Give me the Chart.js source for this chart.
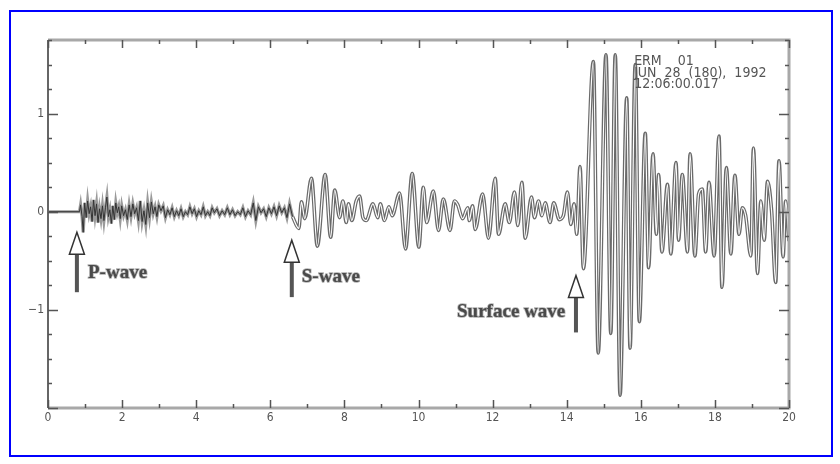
<!DOCTYPE html>
<html>
<head>
<meta charset="utf-8">
<script src="https://cdn.jsdelivr.net/npm/chart.js@4/dist/chart.umd.min.js"></script>
<style>
    html, body { margin: 0; padding: 0; background: #fff; }
    #wrap { position: relative; width: 840px; height: 464px; }
    #frame { position: absolute; left: 9px; top: 10px; width: 820px; height: 443px; border: 2px solid #0000ff; }
    canvas { position: absolute; left: 0; top: 0; }
</style>
</head>
<body>
<div id="wrap">
    <div id="frame"></div>
    <canvas id="seismo" width="840" height="464"></canvas>
</div>
<script>
// 时间轴 (秒) 与振幅, 从图上逐个峰谷读出
const times = [
    0, 0.85, 0.88, 0.92, 0.95, 0.99, 1.03, 1.07, 1.11, 1.15, 1.19, 1.23, 1.27, 1.31, 1.35, 1.39,
    1.43, 1.47, 1.51, 1.55, 1.59, 1.63, 1.67, 1.71, 1.75, 1.79, 1.83, 1.87, 1.91, 1.95, 1.99,
    2.04, 2.09, 2.14, 2.19, 2.24, 2.29, 2.34, 2.39, 2.44, 2.49, 2.54, 2.59, 2.64, 2.69, 2.74,
    2.79, 2.84, 2.89, 2.94, 2.99, 3.05, 3.11, 3.17, 3.23, 3.29, 3.35, 3.41, 3.47, 3.53, 3.59,
    3.65, 3.71, 3.77, 3.83, 3.89, 3.95, 4.01, 4.07, 4.13, 4.19, 4.25, 4.31, 4.37, 4.43, 4.49,
    4.56, 4.63, 4.70, 4.77, 4.84, 4.91, 4.98, 5.05, 5.12, 5.19, 5.26, 5.33, 5.40, 5.47, 5.54,
    5.61, 5.68, 5.75, 5.82, 5.89, 5.96, 6.03, 6.10, 6.17, 6.24, 6.31, 6.38, 6.45, 6.52, 6.60,
    6.77, 6.84, 6.93, 7.11, 7.27, 7.48, 7.63, 7.74, 7.87, 7.96, 8.05, 8.11, 8.20, 8.32, 8.41,
    8.50, 8.59, 8.77, 8.90, 8.97, 9.08, 9.20, 9.29, 9.49, 9.65, 9.83, 10.01, 10.13, 10.22, 10.40,
    10.54, 10.67, 10.85, 10.97, 11.06, 11.19, 11.33, 11.37, 11.46, 11.53, 11.73, 11.89, 12.07, 12.16, 12.34,
    12.45, 12.59, 12.68, 12.79, 12.88, 13.05, 13.13, 13.24, 13.33, 13.42, 13.55, 13.65, 13.80, 13.91, 14.02,
    14.11, 14.20, 14.27, 14.36, 14.45, 14.72, 14.85, 15.06, 15.19, 15.31, 15.44, 15.62, 15.71, 15.85, 15.96,
    16.12, 16.21, 16.33, 16.42, 16.48, 16.57, 16.72, 16.81, 16.95, 17.02, 17.12, 17.26, 17.33, 17.46, 17.56,
    17.66, 17.75, 17.84, 17.98, 18.11, 18.19, 18.31, 18.43, 18.54, 18.65, 18.74, 18.83, 18.97, 19.04, 19.15,
    19.24, 19.33, 19.42, 19.53, 19.64, 19.73, 19.84, 19.91, 20
];
const amplitudes = [
    0, 0, 0.07, -0.05, -0.21, 0.09, -0.06, 0.11, -0.02, 0.05, -0.10, 0.12, -0.04, 0.08, -0.11, 0.03,
    -0.07, 0.06, -0.09, 0.04, 0.15, -0.05, 0.02, -0.12, 0.06, -0.08, 0.09, -0.01, 0.05, -0.07, 0.06,
    -0.04, 0.02, -0.08, 0.07, -0.05, 0.08, -0.02, 0.04, -0.09, 0.11, -0.10, 0.01, -0.13, 0.09, -0.06,
    0.10, -0.02, 0.05, -0.05, 0.07, 0.01, 0.06, -0.06, 0.02, -0.03, 0.04, -0.05, 0.01, -0.04, 0.03,
    -0.05, 0.00, -0.03, 0.05, -0.02, 0.03, -0.05, 0.01, -0.03, 0.05, -0.04, 0.00, -0.04, 0.04, -0.01,
    0.03, -0.04, 0.01, -0.03, 0.04, -0.03, 0.02, -0.04, 0.00, -0.03, 0.04, -0.05, 0.01, -0.03, 0.09,
    -0.09, 0.05, -0.01, 0.03, -0.05, 0.04, -0.02, 0.05, -0.04, 0.06, -0.01, 0.04, -0.06, 0.08, -0.05,
    -0.17, 0.10, -0.07, 0.34, -0.35, 0.38, -0.26, 0.22, -0.06, 0.11, -0.11, 0.08, -0.09, 0.11, 0.16,
    -0.06, -0.09, 0.08, -0.06, 0.08, -0.09, 0.05, -0.04, 0.19, -0.38, 0.39, -0.36, 0.25, -0.11, 0.21,
    -0.19, 0.13, -0.19, 0.11, 0.07, -0.07, 0.04, -0.09, 0.06, -0.18, 0.18, -0.27, 0.34, -0.23, 0.08,
    -0.11, 0.20, -0.14, 0.30, -0.27, 0.15, -0.06, 0.11, -0.04, 0.09, -0.11, 0.09, -0.08, -0.04, 0.20,
    -0.13, 0.08, -0.23, 0.46, -0.58, 1.53, -1.44, 1.60, -1.24, 1.60, -1.87, 1.16, -1.39, 1.50, -1.12,
    0.80, -0.57, 0.59, -0.23, 0.38, -0.41, 0.28, -0.43, 0.50, -0.29, 0.38, -0.41, 0.59, -0.45, 0.18,
    0.23, -0.41, 0.30, -0.45, 0.77, -0.77, 0.45, -0.43, 0.37, -0.23, 0.04, -0.04, -0.45, 0.65, -0.63,
    0.11, -0.29, 0.31, 0.01, -0.72, 0.52, -0.46, 0.11, -0.30
];
// P 波噪声段到此为止 (秒), 之后用平滑曲线
const noiseEnd = 6.6;

// 坐标轴刻度
const xMin = 0, xMax = 20;
const yMin = -2, yMax = 1.75;
const xLabelTicks = [0, 2, 4, 6, 8, 10, 12, 14, 16, 18, 20];
const yLabelTicks = [-1, 0, 1];

// 标注: 箭头 (数据坐标) 与文字
const arrowNames = ['P-wave', 'S-wave', 'Surface wave'];
const arrowX = [0.78, 6.58, 14.25];
const arrowTip = [-0.21, -0.29, -0.65];
const arrowEnd = [-0.82, -0.87, -1.23];
const labelX = [1.08, 6.85, 13.96];
const labelY = [-0.63, -0.67, -1.02];
const labelAlign = ['left', 'left', 'right'];

const stationLines = ['ERM    01', 'JUN  28  (180),  1992', '12:06:00.017'];
const stationX = 15.82;
const stationY = [1.53, 1.41, 1.30];

const points = times.map((t, i) => ({ x: t, y: amplitudes[i] }));
const noisePoints = points.filter(p => p.x <= noiseEnd);
const wavePoints = points.filter(p => p.x >= noiseEnd);

/**
 * 画朝内的刻度、边框、箭头和文字
 */
const overlayPlugin = {
    id: 'overlay',
    afterDatasetsDraw(chart) {
        const ctx = chart.ctx;
        const xs = chart.scales.x;
        const ys = chart.scales.y;
        const area = chart.chartArea;

        ctx.save();

        // 边框
        ctx.strokeStyle = '#a8a8a8';
        ctx.lineWidth = 3;
        ctx.beginPath();
        ctx.moveTo(area.left, area.top);
        ctx.lineTo(area.right, area.top);
        ctx.lineTo(area.right, area.bottom);
        ctx.lineTo(area.left, area.bottom);
        ctx.stroke();
        ctx.strokeStyle = '#666';
        ctx.lineWidth = 2;
        ctx.beginPath();
        ctx.moveTo(area.left, area.top);
        ctx.lineTo(area.left, area.bottom);
        ctx.stroke();

        // x 刻度
        ctx.strokeStyle = '#555';
        ctx.lineWidth = 1.5;
        for (let v = xMin; v <= xMax; v += 1) {
            const px = Math.round(xs.getPixelForValue(v)) + 0.5;
            const len = v % 2 === 0 ? 8 : 4;
            ctx.beginPath();
            ctx.moveTo(px, area.bottom);
            ctx.lineTo(px, area.bottom - len);
            ctx.moveTo(px, area.top);
            ctx.lineTo(px, area.top + len);
            ctx.stroke();
        }

        // y 刻度
        for (let v = yMin; v <= yMax + 1e-9; v += 0.25) {
            const py = Math.round(ys.getPixelForValue(v)) + 0.5;
            const len = Math.abs(v - Math.round(v)) < 1e-9 ? 10 : 4;
            ctx.beginPath();
            ctx.moveTo(area.left, py);
            ctx.lineTo(area.left + len, py);
            ctx.moveTo(area.right, py);
            ctx.lineTo(area.right - len, py);
            ctx.stroke();
        }

        // 箭头
        arrowNames.forEach((name, i) => {
            const px = xs.getPixelForValue(arrowX[i]);
            const tip = ys.getPixelForValue(arrowTip[i]);
            const end = ys.getPixelForValue(arrowEnd[i]);
            const headH = 22;
            const headW = 7.5;

            ctx.fillStyle = '#555';
            ctx.fillRect(px - 2, tip + headH, 4, end - tip - headH);

            ctx.strokeStyle = '#333';
            ctx.lineWidth = 1.5;
            ctx.beginPath();
            ctx.moveTo(px, tip);
            ctx.lineTo(px + headW, tip + headH);
            ctx.lineTo(px - headW, tip + headH);
            ctx.closePath();
            ctx.fillStyle = '#fff';
            ctx.fill();
            ctx.stroke();

            // 文字, 灰色描边模仿原图的扫描效果
            ctx.font = 'bold 19px "Liberation Serif", "DejaVu Serif", serif';
            ctx.textAlign = labelAlign[i];
            ctx.textBaseline = 'middle';
            const lx = xs.getPixelForValue(labelX[i]);
            const ly = ys.getPixelForValue(labelY[i]);
            ctx.strokeStyle = '#b0b0b0';
            ctx.lineWidth = 1.5;
            ctx.strokeText(name, lx, ly);
            ctx.fillStyle = '#4a4a4a';
            ctx.fillText(name, lx, ly);
        });

        // 台站信息
        ctx.font = '14px "DejaVu Sans Condensed", "Liberation Sans", sans-serif';
        ctx.textAlign = 'left';
        ctx.textBaseline = 'middle';
        ctx.fillStyle = '#555';
        stationLines.forEach((line, i) => {
            ctx.fillText(line, xs.getPixelForValue(stationX), ys.getPixelForValue(stationY[i]));
        });

        ctx.restore();
    }
};

function initChart() {
    const ctx = document.getElementById('seismo').getContext('2d');

    new Chart(ctx, {
        type: 'line',
        data: {
            datasets: [
                {
                    data: noisePoints,
                    borderColor: '#333',
                    borderWidth: 1,
                    pointRadius: 0,
                    tension: 0,
                    fill: false
                },
                {
                    data: noisePoints,
                    borderColor: '#9a9a9a',
                    borderWidth: 3.2,
                    pointRadius: 0,
                    tension: 0,
                    fill: false
                },
                {
                    data: wavePoints,
                    borderColor: '#ffffff',
                    borderWidth: 1.2,
                    pointRadius: 0,
                    cubicInterpolationMode: 'monotone',
                    fill: false
                },
                {
                    data: wavePoints,
                    borderColor: '#6a6a6a',
                    borderWidth: 3.6,
                    pointRadius: 0,
                    cubicInterpolationMode: 'monotone',
                    fill: false
                }
            ]
        },
        options: {
            responsive: false,
            animation: false,
            events: [],
            layout: {
                padding: { left: 0, top: 40, right: 51, bottom: 0 }
            },
            plugins: {
                legend: { display: false },
                tooltip: { enabled: false }
            },
            scales: {
                x: {
                    type: 'linear',
                    min: xMin,
                    max: xMax,
                    afterFit: scale => { scale.height = 56; },
                    afterBuildTicks: scale => {
                        scale.ticks = xLabelTicks.map(v => ({ value: v }));
                    },
                    border: { display: false },
                    grid: { display: false, drawTicks: false },
                    ticks: {
                        padding: 3,
                        color: '#555',
                        maxRotation: 0,
                        autoSkip: false,
                        font: { family: '"DejaVu Sans Condensed", "Liberation Sans", sans-serif', size: 12 }
                    }
                },
                y: {
                    type: 'linear',
                    min: yMin,
                    max: yMax,
                    afterFit: scale => { scale.width = 48; },
                    afterBuildTicks: scale => {
                        scale.ticks = yLabelTicks.map(v => ({ value: v }));
                    },
                    border: { display: false },
                    grid: { display: false, drawTicks: false },
                    ticks: {
                        padding: 4,
                        color: '#555',
                        autoSkip: false,
                        callback: v => v < 0 ? '\u2212' + Math.abs(v) : String(v),
                        font: { family: '"DejaVu Sans Condensed", "Liberation Sans", sans-serif', size: 12 }
                    }
                }
            }
        },
        plugins: [overlayPlugin]
    });
}

if (document.readyState === 'loading') {
    document.addEventListener('DOMContentLoaded', initChart);
} else {
    initChart();
}
</script>
</body>
</html>
